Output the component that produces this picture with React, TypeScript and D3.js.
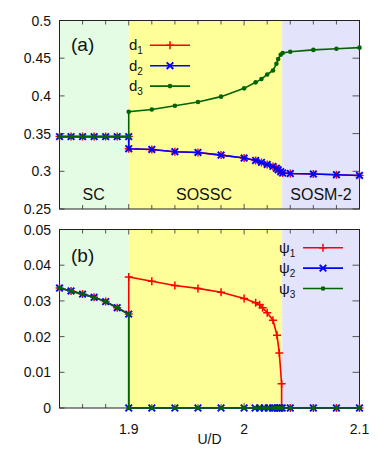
import React from "react";
import * as d3 from "d3";

// ---- data ----
const SC_X = [1.84, 1.85, 1.86, 1.87, 1.88, 1.89, 1.9];
const SC_D = [0.346, 0.346, 0.346, 0.346, 0.346, 0.346, 0.346];
const SC_PSI = [0.0336, 0.0328, 0.0319, 0.031, 0.0298, 0.0281, 0.0263];

const SOSSC_DX = [1.9, 1.92, 1.94, 1.96, 1.98, 2.0, 2.01, 2.015, 2.02, 2.025, 2.028, 2.0295, 2.0317, 2.0334];
const SOSSC_D12 = [0.33, 0.329, 0.326, 0.325, 0.3215, 0.3176, 0.3144, 0.3118, 0.3091, 0.3065, 0.304, 0.302, 0.2995, 0.2977];
const SOSSC_D3 = [0.379, 0.382, 0.387, 0.392, 0.399, 0.41, 0.418, 0.4223, 0.4284, 0.4337, 0.4426, 0.4488, 0.4545, 0.4568];

const SOSM_X = [2.04, 2.06, 2.08, 2.1];
const SOSM_D12 = [0.297, 0.2964, 0.2955, 0.2945];
const SOSM_D3 = [0.4585, 0.461, 0.4625, 0.464];

const PSI1_X = [1.9, 1.92, 1.94, 1.96, 1.98, 2.0, 2.01, 2.0135, 2.016, 2.02, 2.025, 2.0285, 2.0305, 2.0325, 2.0325, 2.04, 2.06, 2.08, 2.1];
const PSI1 = [0.0367, 0.0355, 0.0343, 0.0335, 0.0324, 0.0307, 0.0295, 0.0289, 0.0281, 0.0267, 0.0246, 0.0204, 0.0154, 0.0068, 0, 0, 0, 0, 0];
const ZERO_X = [1.9, 1.92, 1.94, 1.96, 1.98, 2.0, 2.0095, 2.0134, 2.0174, 2.0209, 2.0247, 2.0267, 2.0285, 2.03, 2.0313, 2.033, 2.04, 2.06, 2.08, 2.1];

const X_DOMAIN = [1.84, 2.1];
const PHASE_BOUNDS = [1.84, 1.9, 2.033, 2.1];
const PHASE_NAMES = ["SC", "SOSSC", "SOSM-2"];
const X_TICKS = d3.range(0, 14).map((i) => +(1.84 + i * 0.02).toFixed(2));
const X_LABELS = [1.9, 2.0, 2.1];
const X_LABEL_TEXT = ["1.9", "2", "2.1"];
const TOP_TICKS = [0.25, 0.3, 0.35, 0.4, 0.45, 0.5];
const TOP_TICK_TEXT = ["0.25", "0.3", "0.35", "0.4", "0.45", "0.5"];
const BOT_TICKS = [0, 0.01, 0.02, 0.03, 0.04, 0.05];
const BOT_TICK_TEXT = ["0", "0.01", "0.02", "0.03", "0.04", "0.05"];

type P = [number, number];
const zip = (xs: number[], ys: number[]): P[] => xs.map((x, i) => [x, ys[i]]);

const d1: P[] = [...zip(SC_X, SC_D), ...zip(SOSSC_DX, SOSSC_D12), ...zip(SOSM_X, SOSM_D12)];
const d2: P[] = [...zip(SC_X, SC_D), ...zip(SOSSC_DX, SOSSC_D12), ...zip(SOSM_X, SOSM_D12)];
const d3s: P[] = [...zip(SC_X, SC_D), ...zip(SOSSC_DX, SOSSC_D3), ...zip(SOSM_X, SOSM_D3)];
const psi1: P[] = [...zip(SC_X, SC_PSI), ...zip(PSI1_X, PSI1)];
const psi2: P[] = [...zip(SC_X, SC_PSI), ...zip(ZERO_X, ZERO_X.map(() => 0))];
const psi3: P[] = [...zip(SC_X, SC_PSI), ...zip(ZERO_X, ZERO_X.map(() => 0))];

const RED = "#ff0000";
const BLUE = "#0000ff";
const GREEN = "#006400";
const BG = ["#e4fbe4", "#ffff99", "#e3e3fb"];
const FONT = "'Liberation Sans', Arial, Helvetica, sans-serif";

const L = 59.5, R = 359.5;
const x = d3.scaleLinear().domain(X_DOMAIN).range([L, R]);
const yTop = d3.scaleLinear().domain([0.25, 0.5]).range([209, 20.5]);
const yBot = d3.scaleLinear().domain([0, 0.05]).range([408, 229.5]);

function Marker({ kind, cx, cy, color }: { kind: string; cx: number; cy: number; color: string }) {
  if (kind === "plus")
    return <path d={`M${cx - 4},${cy}H${cx + 4}M${cx},${cy - 4}V${cy + 4}`} stroke={color} strokeWidth={1.5} />;
  if (kind === "cross")
    return <path d={`M${cx - 3.3},${cy - 3.3}L${cx + 3.3},${cy + 3.3}M${cx - 3.3},${cy + 3.3}L${cx + 3.3},${cy - 3.3}`} stroke={color} strokeWidth={1.9} />;
  return <circle cx={cx} cy={cy} r={2.3} fill={color} />;
}

function Series({ data, y, color, kind }: { data: P[]; y: d3.ScaleLinear<number, number>; color: string; kind: string }) {
  const line = d3.line<P>().x((d) => x(d[0])).y((d) => y(d[1]));
  return (
    <g>
      <path d={line(data) || ""} fill="none" stroke={color} strokeWidth={1.6} />
      {data.map((d, i) => (
        <Marker key={i} kind={kind} cx={x(d[0])} cy={y(d[1])} color={color} />
      ))}
    </g>
  );
}

function Panel({ y, ticks, tickText, showX }: { y: d3.ScaleLinear<number, number>; ticks: number[]; tickText: string[]; showX: boolean }) {
  const [b, t] = y.range();
  return (
    <g>
      {PHASE_NAMES.map((_, i) => (
        <rect key={i} x={x(PHASE_BOUNDS[i])} y={t} width={x(PHASE_BOUNDS[i + 1]) - x(PHASE_BOUNDS[i])} height={b - t} fill={BG[i]} />
      ))}
      {X_TICKS.map((v, i) => {
        const major = X_LABELS.some((m) => Math.abs(m - v) < 1e-6);
        const len = major ? 5 : 4;
        return (
          <g key={i} stroke="#555" strokeWidth={1}>
            <line x1={x(v)} x2={x(v)} y1={b} y2={b - len} />
            <line x1={x(v)} x2={x(v)} y1={t} y2={t + len} />
          </g>
        );
      })}
      {ticks.map((v, i) => (
        <g key={i}>
          <line x1={L} x2={L + 5} y1={y(v)} y2={y(v)} stroke="#555" />
          <line x1={R} x2={R - 7} y1={y(v)} y2={y(v)} stroke="#555" />
          <text x={51} y={y(v)} dy="0.36em" textAnchor="end" fontSize={14} fontFamily={FONT} fill="#111">
            {tickText[i]}
          </text>
        </g>
      ))}
      <rect x={L} y={t} width={R - L} height={b - t} fill="none" stroke="#222" strokeWidth={1} />
      {showX &&
        X_LABELS.map((v, i) => (
          <text key={i} x={x(v)} y={434} textAnchor="middle" fontSize={14} fontFamily={FONT} fill="#111">
            {X_LABEL_TEXT[i]}
          </text>
        ))}
    </g>
  );
}

function Legend({ tx, x1, x2, y0, sym, items }: { tx: number; x1: number; x2: number; y0: number; sym: string; items: { sub: string; color: string; kind: string }[] }) {
  return (
    <g>
      {items.map((it, i) => {
        const ly = y0 + i * 20.4;
        return (
          <g key={i}>
            <text x={tx} y={ly + 5} fontSize={15} fontFamily={FONT} fill="#111">
              {sym}
              <tspan fontSize={10} dy={4}>{it.sub}</tspan>
            </text>
            <line x1={x1} x2={x2} y1={ly} y2={ly} stroke={it.color} strokeWidth={1.6} />
            <Marker kind={it.kind} cx={(x1 + x2) / 2} cy={ly} color={it.color} />
          </g>
        );
      })}
    </g>
  );
}

export default function App() {
  const items = [
    { sub: "1", color: RED, kind: "plus" },
    { sub: "2", color: BLUE, kind: "cross" },
    { sub: "3", color: GREEN, kind: "dot" },
  ];
  return (
    <svg width={382} height={458} style={{ position: "absolute", left: 0, top: 0, background: "#fff" }}>
      <Panel y={yTop} ticks={TOP_TICKS} tickText={TOP_TICK_TEXT} showX={false} />
      <Panel y={yBot} ticks={BOT_TICKS} tickText={BOT_TICK_TEXT} showX={true} />

      {PHASE_NAMES.map((n, i) => (
        <text key={n} x={[93.7, 204, 321][i]} y={200} textAnchor="middle" fontSize={16} fontFamily={FONT} fill="#111">
          {n}
        </text>
      ))}
      <text x={71} y={50.5} fontSize={19} fontFamily={FONT} fill="#111">(a)</text>
      <text x={71} y={262} fontSize={19} fontFamily={FONT} fill="#111">(b)</text>

      <Series data={d1} y={yTop} color={RED} kind="plus" />
      <Series data={d2} y={yTop} color={BLUE} kind="cross" />
      <Series data={d3s} y={yTop} color={GREEN} kind="dot" />

      <Series data={psi1} y={yBot} color={RED} kind="plus" />
      <Series data={psi2} y={yBot} color={BLUE} kind="cross" />
      <Series data={psi3} y={yBot} color={GREEN} kind="dot" />

      <Legend tx={129} x1={150} x2={190} y0={45.3} sym="d" items={items} />
      <Legend tx={279} x1={303} x2={343} y0={247.7} sym="ψ" items={items} />

      <text x={209.5} y={444} textAnchor="middle" fontSize={14} fontFamily={FONT} fill="#111">U/D</text>
    </svg>
  );
}
